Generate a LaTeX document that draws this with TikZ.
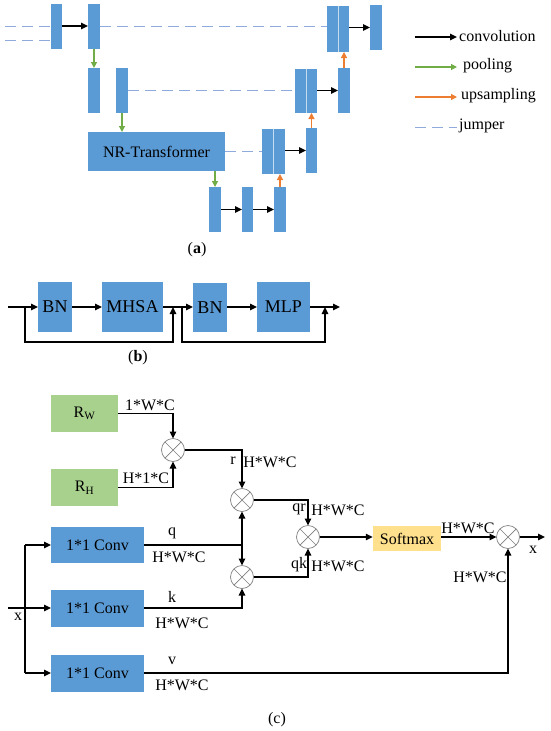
\documentclass[tikz,border=0pt]{standalone}
\usepackage{fontspec}
\setmainfont{Liberation Serif}
\usetikzlibrary{arrows.meta}
\definecolor{boxblue}{HTML}{5B9BD5}
\definecolor{boxgreen}{HTML}{A9D18E}
\definecolor{boxyellow}{HTML}{FFE08C}
\definecolor{poolgreen}{HTML}{70AD47}
\definecolor{uporange}{HTML}{ED7D31}
\definecolor{jumpblue}{HTML}{8FAADC}
\tikzset{
  blk/.style={fill=boxblue, draw=none, inner sep=0pt, outer sep=0pt},
  gbox/.style={fill=boxgreen, draw=none, inner sep=0pt, outer sep=0pt, minimum width=67pt, minimum height=37pt},
  split/.style={draw=boxblue!35!white, line width=0.6pt},
  convarr/.style={draw=black, line width=1.4pt, -{Triangle[length=7pt,width=6.5pt]}},
  poolarr/.style={draw=poolgreen, line width=1.2pt, -{Triangle[length=6pt,width=6pt]}},
  uparr/.style={draw=uporange, line width=1.2pt, -{Triangle[length=6pt,width=6pt]}},
  jump/.style={draw=jumpblue, line width=1pt, dash pattern=on 11pt off 6pt},
  arr/.style={draw=black, line width=1.3pt, -{Triangle[length=7pt,width=6.5pt]}},
  ln/.style={draw=black, line width=1.3pt},
  mul/.style={circle, draw=gray, line width=0.7pt, fill=white, minimum size=23pt, inner sep=0pt, outer sep=0pt,
    path picture={\draw[gray, line width=0.7pt] (path picture bounding box.north west) -- (path picture bounding box.south east)
      (path picture bounding box.north east) -- (path picture bounding box.south west);}},
  txt/.style={font=\fontsize{16}{18}\selectfont, inner sep=0pt},
  btxt/.style={font=\fontsize{18}{20}\selectfont},
}
\begin{document}
\begin{tikzpicture}[x=1pt,y=-1pt]
\useasboundingbox (0,0) rectangle (550,731);

% ---------------- (a) ----------------
\node[blk, minimum width=11pt, minimum height=45pt] (a1) at (56.5,26.5) {};
\node[blk, minimum width=12pt, minimum height=45pt] (a2) at (94,26.5) {};
\node[blk, minimum width=12pt, minimum height=45pt] (b1) at (94,90.5) {};
\node[blk, minimum width=12pt, minimum height=45pt] (b2) at (122,90.5) {};
\node[blk, minimum width=137pt, minimum height=39pt, txt] (nr) at (156.5,151.5) {NR-Transformer};
\node[blk, minimum width=12pt, minimum height=45pt] (c1) at (215,209.5) {};
\node[blk, minimum width=11pt, minimum height=45pt] (c2) at (247.5,209.5) {};
\node[blk, minimum width=12pt, minimum height=45pt] (c3) at (280,209.5) {};
\node[blk, minimum width=23pt, minimum height=45pt] (u3) at (273.5,151.5) {};
\node[blk, minimum width=11pt, minimum height=45pt] (r3) at (311.5,150.5) {};
\node[blk, minimum width=22pt, minimum height=44pt] (u2) at (306,91) {};
\node[blk, minimum width=12pt, minimum height=45pt] (r2) at (344,90.5) {};
\node[blk, minimum width=22pt, minimum height=46pt] (u1) at (338,29) {};
\node[blk, minimum width=12pt, minimum height=45pt] (r1) at (376,27.5) {};
\draw[split] (u1.north) -- (u1.south);
\draw[split] (u2.north) -- (u2.south);
\draw[split] (u3.north) -- (u3.south);

% jumpers
\coordinate (ja) at (5,26);
\coordinate (jb) at (5,40);
\draw[jump] (ja) -- (ja -| a1.west);
\draw[jump] (jb) -- (jb -| a1.west);
\draw[jump] (a2.east |- ja) -- (ja -| u1.west);
\draw[jump] (b2.east) -- (b2.east -| u2.west);
\draw[jump] (nr.east) -- (nr.east -| u3.west);

% convolutions
\draw[convarr] (a1.east |- ja) -- (ja -| a2.west);
\draw[convarr] (u1.east |- r1) -- (r1.west);
\draw[convarr] (u2.east |- r2) -- (r2.west);
\draw[convarr] (u3.east |- r3) -- (r3.west);
\draw[convarr] (c1.east) -- (c2.west);
\draw[convarr] (c2.east) -- (c3.west);

% pooling
\draw[poolarr] (a2.south) -- (b1.north);
\draw[poolarr] (b2.south) -- (b2.south |- nr.north);
\draw[poolarr] (c1.north |- nr.south) -- (c1.north);

% upsampling
\draw[uparr] (c3.north) -- (c3.north |- u3.south);
\draw[uparr] (r3.north) -- (r3.north |- u2.south);
\draw[uparr] (r2.north) -- (r2.north |- u1.south);

% legend
\coordinate (l1a) at (415,37); \coordinate (l1b) at (457,37);
\coordinate (l2a) at (415,67); \coordinate (l2b) at (457,67);
\coordinate (l3a) at (415,97); \coordinate (l3b) at (457,97);
\coordinate (l4a) at (415,127); \coordinate (l4b) at (457,127);
\draw[convarr] (l1a) -- (l1b);
\draw[poolarr] (l2a) -- (l2b);
\draw[uparr] (l3a) -- (l3b);
\draw[jump] (l4a) -- (l4b);
\node[txt, anchor=west] (lt1) at (459,36) {convolution};
\node[txt, anchor=west] (lt2) at (463,66) {pooling};
\node[txt, anchor=west] (lt3) at (461,96) {upsampling};
\node[txt, anchor=west] (lt4) at (459,126) {jumper};

\node[txt] (capa) at (197,250) {(\textbf{a})};

% ---------------- (b) ----------------
\node[blk, minimum width=34pt, minimum height=50pt, btxt] (bn1) at (55,307) {BN};
\node[blk, minimum width=61pt, minimum height=50pt, btxt] (mhsa) at (132.5,307) {MHSA};
\node[blk, minimum width=34pt, minimum height=49pt, btxt] (bn2) at (210,307.5) {BN};
\node[blk, minimum width=53pt, minimum height=50pt, btxt] (mlp) at (283.5,307) {MLP};
\coordinate (bin) at (8,307);
\coordinate (bout) at (340,307);
\coordinate (s1a) at (25,307);
\coordinate (s1b) at (173,307);
\coordinate (s2a) at (182,307);
\coordinate (s2b) at (325,307);
\draw[arr] (bin) -- (bn1.west);
\draw[arr] (bn1.east) -- (mhsa.west);
\draw[arr] (mhsa.east) -- (bn2.west |- mhsa.east);
\draw[arr] (bn2.east |- mlp.east) -- (mlp.west);
\draw[arr] (mlp.east) -- (bout);
\draw[arr] (s1a) -- ++(0,35) -| (s1b);
\draw[arr] (s2a) -- ++(0,35) -| (s2b);
\node[txt] (capb) at (138,358) {(\textbf{b})};

% ---------------- (c) ----------------
\node[gbox, txt] (rw) at (84.5,413.5) {R\textsubscript{W}};
\node[gbox, txt] (rh) at (84.5,487.5) {R\textsubscript{H}};
\node[mul] (m1) at (173,450) {};
\node[mul] (m2) at (242,500) {};
\node[mul] (m3) at (308,537) {};
\node[mul] (m4) at (242,577) {};
\node[mul] (m5) at (508,537) {};
\node[fill=boxyellow, inner sep=0pt, minimum width=68pt, minimum height=25pt, txt] (soft) at (407,538.5) {Softmax};
\node[blk, minimum width=93pt, minimum height=36pt, txt] (cv1) at (97.5,545) {1*1 Conv};
\node[blk, minimum width=93pt, minimum height=37pt, txt] (cv2) at (97.5,608) {1*1 Conv};
\node[blk, minimum width=93pt, minimum height=37pt, txt] (cv3) at (97.5,673) {1*1 Conv};

\draw[arr] (rw.east) -| (m1.north);
\draw[arr] (rh.east) -| (m1.south);
\draw[arr] (m1.east) -| (m2.north);
\draw[arr] (m2.east) -| (m3.north);
\draw[arr] (m3.east) -- (soft.west |- m3);
\draw[arr] (soft.east |- m5) -- (m5.west);
\coordinate (xout) at (545,537);
\draw[arr] (m5.east) -- (xout);
\coordinate (jq) at (m2.south |- cv1.east);
\draw[ln] (cv1.east) -- (jq);
\draw[arr] (jq) -- (m2.south);
\draw[arr] (jq) -- (m4.north);
\draw[arr] (cv2.east) -| (m4.south);
\draw[arr] (m4.east) -| (m3.south);
\draw[arr] (cv3.east) -| (m5.south);

% input x
\coordinate (xin) at (8,608);
\coordinate (xt) at (25,545);
\coordinate (xb) at (25,673);
\draw[arr] (xin) -- (cv2.west);
\draw[ln] (xt) -- (xb);
\draw[arr] (xt) -- (cv1.west);
\draw[arr] (xb) -- (cv3.west);

% labels
\node[txt] (t1) at (150,405) {1*W*C};
\node[txt] (t2) at (146,478) {H*1*C};
\node[txt] (t3) at (233,461) {r};
\node[txt] (t4) at (270,462) {H*W*C};
\node[txt] (t5) at (299,509) {qr};
\node[txt] (t6) at (338,510) {H*W*C};
\node[txt] (t7) at (299,565) {qk};
\node[txt] (t8) at (338,566) {H*W*C};
\node[txt] (t9) at (468,528) {H*W*C};
\node[txt] (t10) at (533,550) {x};
\node[txt] (t11) at (480,577) {H*W*C};
\node[txt] (t12) at (172,533) {q};
\node[txt] (t13) at (179,557) {H*W*C};
\node[txt] (t14) at (172,597) {k};
\node[txt] (t15) at (182,623) {H*W*C};
\node[txt] (t16) at (172,661) {v};
\node[txt] (t17) at (182,685) {H*W*C};
\node[txt] (t18) at (18,617) {x};
\node[txt] (capc) at (277,720) {(c)};
\end{tikzpicture}
\end{document}
